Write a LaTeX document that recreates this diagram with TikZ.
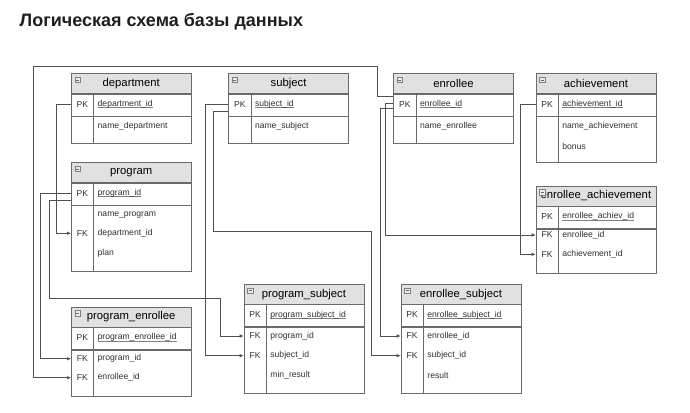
\documentclass[tikz,border=0pt]{standalone}
\usepackage{fontspec}
\setmainfont{Liberation Sans}
\usetikzlibrary{positioning,arrows.meta}
\definecolor{linegray}{HTML}{6A6A6A}
\definecolor{headgray}{HTML}{E1E1E1}
\definecolor{wiregray}{HTML}{505050}
\definecolor{textgray}{HTML}{303030}
% table frame: name, x, y, title, body height
\newcommand{\ertable}[5]{%
  \node[erhead] (#1) at (#2,#3) {#4};
  \node[erpk, below=0pt of #1] (#1-row) {};
  \node[erbody, minimum height=#5pt, below=0pt of #1-row] (#1-body) {};
  \draw[erline] ([xshift=22.5pt]#1-row.north west) -- ([xshift=22.5pt]#1-body.south west);
  \node[ermin] at ([xshift=6.5pt,yshift=-6.5pt]#1.north west) {};
}
% key field underline, close to the baseline
\newcommand{\erul}[1]{\setbox0\hbox{#1}\rlap{\color{gray}\rule[-1.4pt]{\wd0}{0.5pt}}\box0}
\begin{document}
\begin{tikzpicture}[
x=1pt, y=-1pt,
erhead/.style = {shape=rectangle, draw=linegray, fill=headgray, minimum width=120pt, minimum height=20pt, inner sep=0pt, anchor=north west, font=\fontsize{11.3}{13}\selectfont},
erpk/.style = {shape=rectangle, draw=linegray, fill=white, minimum width=120pt, minimum height=22pt, inner sep=0pt, anchor=north},
erbody/.style = {shape=rectangle, draw=linegray, fill=white, minimum width=120pt, inner sep=0pt, anchor=north},
erline/.style = {draw=linegray},
ermin/.style = {shape=rectangle, draw=gray, fill=gray!15, minimum size=5.5pt, inner sep=0pt, line width=0.4pt,
  path picture={\draw[gray!80!black, line width=0.5pt] ([xshift=1.3pt]path picture bounding box.west) -- ([xshift=-1.3pt]path picture bounding box.east);}},
erkey/.style = {anchor=west, minimum width=22.5pt, inner sep=0pt, text=textgray, font=\fontsize{8.6}{10}\selectfont},
erfield/.style = {anchor=west, inner sep=0pt, text=textgray, font=\fontsize{8.6}{10}\selectfont},
fk/.style = {draw=wiregray, line width=0.7pt, -{Latex[length=4pt,width=3.6pt]}},
]
\useasboundingbox (0,0) rectangle (690,412);
\node[anchor=base west, inner sep=0pt, font=\bfseries\fontsize{18}{21}\selectfont, text=black!88] (title) at (19.5,26.7) {Логическая схема базы данных};

% tables
\ertable{dep}{71}{73.3}{department}{26.6}
\node[erkey] (dep-pk) at (71,104.3) {PK};
\node[erfield] at (97.5,104.3) {\erul{department\_id}};
\node[erfield] at (97.5,126) {name\_department};

\ertable{subj}{228.3}{73.3}{subject}{26.6}
\node[erkey] (subj-pk) at (228.3,104.3) {PK};
\node[erfield] at (254.8,104.3) {\erul{subject\_id}};
\node[erfield] at (254.8,126) {name\_subject};

\ertable{enr}{393.3}{73.3}{enrollee}{26.6}
\node[erkey] (enr-pk) at (393.3,104.3) {PK};
\node[erfield] at (419.8,104.3) {\erul{enrollee\_id}};
\node[erfield] at (419.8,126) {name\_enrollee};

\ertable{ach}{535.7}{73.3}{achievement}{46}
\node[erkey] (ach-pk) at (535.7,104.3) {PK};
\node[erfield] at (562.2,104.3) {\erul{achievement\_id}};
\node[erfield] at (562.2,126) {name\_achievement};
\node[erfield] at (562.2,146) {bonus};

\ertable{prog}{71}{162.3}{program}{65.7}
\node[erkey] (prog-pk) at (71,193.3) {PK};
\node[erfield] at (97.5,193.3) {\erul{program\_id}};
\node[erfield] at (97.5,215) {name\_program};
\node[erkey] (prog-fk) at (71,233.3) {FK};
\node[erfield] at (97.5,233.3) {department\_id};
\node[erfield] at (97.5,253.3) {plan};

\ertable{ea}{535.7}{185.7}{enrollee\_achievement}{44}
\node[erkey] (ea-pk) at (535.7,216.7) {PK};
\node[erfield] at (562.2,216.7) {\erul{enrollee\_achiev\_id}};
\node[erkey] (ea-fk1) at (535.7,235) {FK};
\node[erfield] at (562.2,235) {enrollee\_id};
\node[erkey] (ea-fk2) at (535.7,254.3) {FK};
\node[erfield] at (562.2,254.3) {achievement\_id};

\ertable{pe}{71}{306.7}{program\_enrollee}{46.3}
\node[erkey] (pe-pk) at (71,337.7) {PK};
\node[erfield] at (97.5,337.7) {\erul{program\_enrollee\_id}};
\node[erkey] (pe-fk1) at (71,358.7) {FK};
\node[erfield] at (97.5,358.7) {program\_id};
\node[erkey] (pe-fk2) at (71,377.7) {FK};
\node[erfield] at (97.5,377.7) {enrollee\_id};

\ertable{ps}{243.7}{284}{program\_subject}{65.7}
\node[erkey] (ps-pk) at (243.7,315) {PK};
\node[erfield] at (270.2,315) {\erul{program\_subject\_id}};
\node[erkey] (ps-fk1) at (243.7,336) {FK};
\node[erfield] at (270.2,336) {program\_id};
\node[erkey] (ps-fk2) at (243.7,355.7) {FK};
\node[erfield] at (270.2,355.7) {subject\_id};
\node[erfield] at (270.2,375) {min\_result};

\ertable{es}{400.7}{284}{enrollee\_subject}{65.7}
\node[erkey] (es-pk) at (400.7,315) {PK};
\node[erfield] at (427.2,315) {\erul{enrollee\_subject\_id}};
\node[erkey] (es-fk1) at (400.7,336) {FK};
\node[erfield] at (427.2,336) {enrollee\_id};
\node[erkey] (es-fk2) at (400.7,355.7) {FK};
\node[erfield] at (427.2,355.7) {subject\_id};
\node[erfield] at (427.2,375) {result};

% links
\draw[fk] (dep-pk.west) -- ++(-14.3,0) |- (prog-fk.west);
\draw[fk] (prog-pk.west) -- ++(-30.7,0) |- (pe-fk1.west);
\draw[fk] ([yshift=-6.7pt]prog-pk.west) -- ++(-22,0) |- (220.7,298.3) |- (ps-fk1.west);
\draw[fk] (subj-pk.west) -- ++(-22.6,0) |- (ps-fk2.west);
\draw[fk] ([yshift=-6.7pt]subj-pk.west) -- ++(-15,0) |- (371,231) |- (es-fk2.west);
\draw[fk] ([yshift=7.6pt]enr-pk.west) -- ++(-15.8,0) |- (33.3,66.7) |- (pe-fk2.west);
\draw[fk] ([yshift=1pt]enr-pk.west) -- ++(-8.3,0) |- (ea-fk1.west);
\draw[fk] ([yshift=-4pt]enr-pk.west) -- ++(-13,0) |- (es-fk1.west);
\draw[fk] (ach-pk.west) -- ++(-15.7,0) |- (ea-fk2.west);
\end{tikzpicture}
\end{document}
